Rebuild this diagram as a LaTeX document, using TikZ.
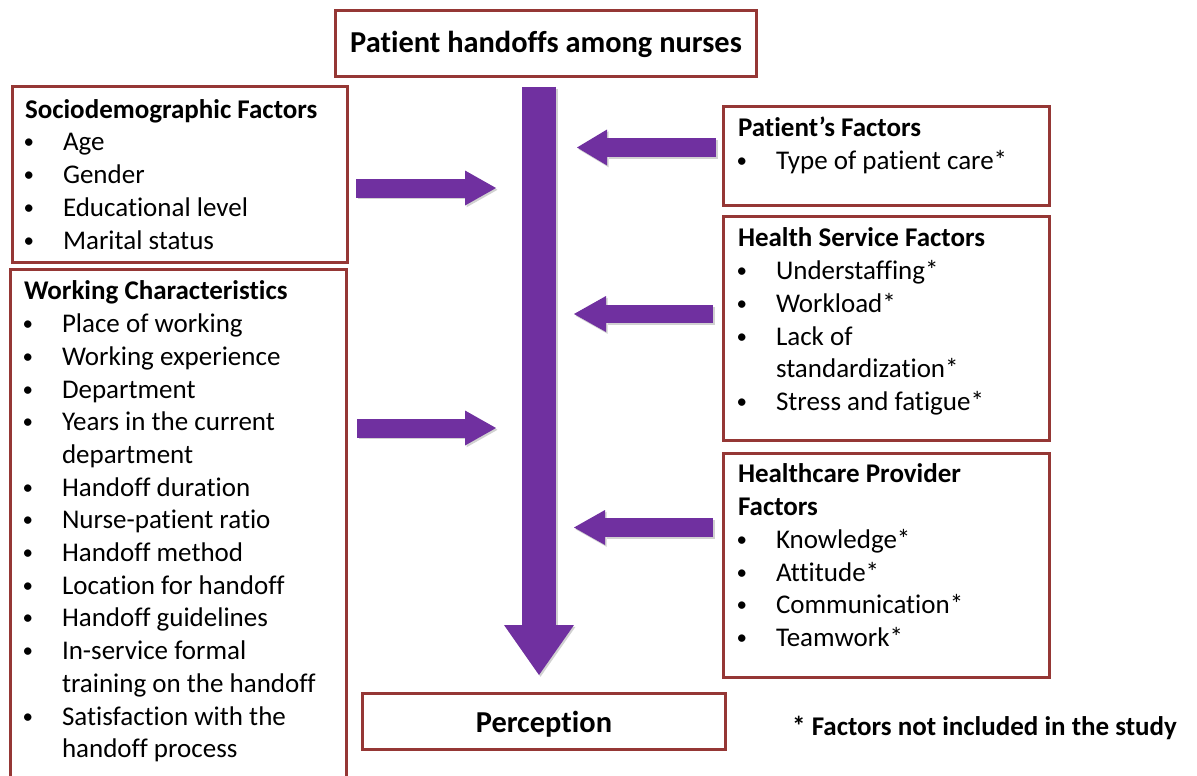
\documentclass[tikz,border=0pt]{standalone}
\usepackage{fontspec}
\setmainfont{Carlito}[Ligatures=NoCommon]
\usetikzlibrary{arrows.meta}

\definecolor{frame}{RGB}{149,55,53}
\definecolor{flow}{RGB}{112,48,160}

% body text: one list line every 32.7pt
\newcommand\bodysize{\fontsize{27}{32.7}\selectfont}
% bulleted item, and the continuation of a wrapped item
\newcommand\bul{\raisebox{2pt}{\fontsize{21}{21}\selectfont\textbullet}}
\newcommand\itm[1]{\makebox[38pt][l]{\hspace{-1.5pt}\bul}#1}
\newcommand\cnt[1]{\makebox[38pt]{}#1}

\tikzset{
  box/.style={draw=frame, line width=3pt, inner sep=0pt, outer sep=0pt, anchor=north west},
  listtext/.style={anchor=north west, inner sep=0pt, outer sep=0pt, align=left, font=\bodysize},
  headtext/.style={anchor=base, inner sep=0pt, font=\fontsize{30.4}{36}\selectfont\bfseries},
  flowarrow/.style n args={3}{draw=flow, line width=#1,
    -{Triangle[width=#2, length=#3, line width=0pt]}},
  flowshadow/.style={draw=black, opacity=0.18,
    transform canvas={shift={(1.5pt,-1.8pt)}}},
}

% a block arrow with its soft shadow: shaft width, head width, head length, from, to
\newcommand\blockarrow[5]{%
  \draw[flowarrow={#1}{#2}{#3}, flowshadow] (#4) -- (#5);
  \draw[flowarrow={#1}{#2}{#3}] (#4) -- (#5);}

\begin{document}
\begin{tikzpicture}[x=1pt, y=-1pt]
\useasboundingbox[fill=white] (0,0) rectangle (1197,776);

% frames
\node[box, minimum width=421pt, minimum height=66pt] (top) at (335,11) {};
\node[box, minimum width=335pt, minimum height=175pt] (socio) at (12,87) {};
\node[box, minimum width=336pt, minimum height=530pt] (work) at (10,269) {};
\node[box, minimum width=326pt, minimum height=99pt] (pat) at (723,106) {};
\node[box, minimum width=326pt, minimum height=224pt] (hs) at (723,216) {};
\node[box, minimum width=326pt, minimum height=224pt] (hp) at (723,453) {};
\node[box, minimum width=363pt, minimum height=56pt] (perc) at (362,693) {};

% headings
\node[headtext] (toptxt) at (546,53) {Patient handoffs among nurses};
\node[headtext] (perctxt) at (544,732) {Perception};

% lists
\node[listtext] (sociotxt) at (25,95.4) {\strut\textbf{Sociodemographic Factors}\\
  \itm{Age}\\ \itm{Gender}\\ \itm{Educational level}\\ \itm{Marital status}};

\node[listtext] (worktxt) at (24,277.1) {\strut\textbf{Working Characteristics}\\
  \itm{Place of working}\\ \itm{Working experience}\\ \itm{Department}\\
  \itm{Years in the current}\\ \cnt{department}\\ \itm{Handoff duration}\\
  \itm{Nurse-patient ratio}\\ \itm{Handoff method}\\ \itm{Location for handoff}\\
  \itm{Handoff guidelines}\\ \itm{In-service formal}\\ \cnt{training on the handoff}\\
  \itm{Satisfaction with the}\\ \cnt{handoff process}};

\node[listtext] (pattxt) at (738,114.1) {\strut\textbf{Patient’s Factors}\\
  \itm{Type of patient care*}};

\node[listtext] (hstxt) at (738,224.1) {\strut\textbf{Health Service Factors}\\
  \itm{Understaffing*}\\ \itm{Workload*}\\ \itm{Lack of}\\ \cnt{standardization*}\\
  \itm{Stress and fatigue*}};

\node[listtext] (hptxt) at (738,460.1) {\strut\textbf{Healthcare Provider}\\
  \textbf{Factors}\\ \itm{Knowledge*}\\ \itm{Attitude*}\\ \itm{Communication*}\\
  \itm{Teamwork*}};

\node[anchor=base west, inner sep=0pt, font=\fontsize{27}{32}\selectfont\bfseries]
  (note) at (792,735) {* Factors not included in the study};

% arrow ends
\coordinate (mainS) at (539,87);   \coordinate (mainE) at (539,675);
\coordinate (a1S) at (356,188);    \coordinate (a1E) at (496,188);
\coordinate (a2S) at (357,428);    \coordinate (a2E) at (496,428);
\coordinate (r1S) at (716,147.5);  \coordinate (r1E) at (577,147.5);
\coordinate (r2S) at (713,314);    \coordinate (r2E) at (574,314);
\coordinate (r3S) at (713,527.5);  \coordinate (r3E) at (574,527.5);

% block arrows into the central flow, and the flow itself
\blockarrow{34pt}{70pt}{50pt}{mainS}{mainE}
\blockarrow{19pt}{35pt}{31pt}{a1S}{a1E}
\blockarrow{19pt}{35pt}{31pt}{a2S}{a2E}
\blockarrow{19pt}{36pt}{30pt}{r1S}{r1E}
\blockarrow{18pt}{36pt}{32pt}{r2S}{r2E}
\blockarrow{19pt}{35pt}{31pt}{r3S}{r3E}
\end{tikzpicture}
\end{document}
